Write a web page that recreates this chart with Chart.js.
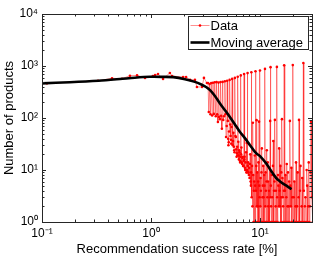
<!DOCTYPE html>
<html>
<head>
<meta charset="utf-8">
<script src="https://cdn.jsdelivr.net/npm/chart.js@4.4.0/dist/chart.umd.min.js"></script>
<style>
    html, body { margin: 0; padding: 0; background: #fff; }
</style>
</head>
<body>
<canvas id="grafico" width="319" height="257"></canvas>
<script>
// success rate [%] and number of products
const dataX = [
    0.111, 0.327, 0.439, 0.542, 0.641, 0.745, 0.881, 1.04, 1.09, 1.16, 1.29, 1.49, 1.56, 1.97, 2.10, 2.28, 2.53, 2.64, 2.94, 3.06, 3.26,
    3.333, 3.39, 3.448, 3.51, 3.571, 3.64, 3.704, 3.77, 3.846, 3.93, 4.0, 4.05, 4.11, 4.167, 4.21, 4.29, 4.348, 4.40, 4.47,
    4.545, 4.60, 4.68, 4.762, 4.82, 4.88, 4.95, 5.0,
    5.06, 5.1, 5.13, 5.17, 5.20, 5.263,
    5.33, 5.37, 5.42, 5.45, 5.49, 5.556,
    5.62, 5.66, 5.70, 5.75, 5.80, 5.84, 5.882,
    5.95, 6.01, 6.05, 6.10, 6.14, 6.18, 6.22, 6.25,
    6.32, 6.36, 6.40, 6.45, 6.50, 6.54, 6.58, 6.62, 6.667,
    6.71, 6.75, 6.8, 6.85, 6.9, 6.95, 7.0, 7.05, 7.1, 7.143,
    7.18, 7.22, 7.27, 7.32, 7.38, 7.45, 7.5, 7.56, 7.6, 7.64, 7.692,
    7.73, 7.78, 7.84, 7.90, 7.96, 8.02, 8.08, 8.14, 8.2, 8.26, 8.3, 8.333,
    8.39, 8.45, 8.53, 8.6, 8.66, 8.72, 8.78, 8.85, 8.91, 8.97, 9.03, 9.091,
    9.13, 9.18, 9.24, 9.3, 9.36, 9.42, 9.49, 9.55, 9.61, 9.68, 9.74, 9.8, 9.86, 9.92, 9.96, 10.0,
    10.06, 10.12, 10.18, 10.25, 10.32, 10.4, 10.48, 10.55, 10.62, 10.7, 10.78, 10.85, 10.93, 11.0, 11.05, 11.11,
    11.18, 11.25, 11.32, 11.4, 11.48, 11.55, 11.62, 11.7, 11.78, 11.85, 11.92, 12.0, 12.1, 12.2, 12.3, 12.4, 12.45, 12.5,
    12.57, 12.65, 12.75, 12.85, 12.95, 13.05, 13.15, 13.25, 13.35, 13.45, 13.57, 13.7, 13.8, 13.9, 14.0, 14.1, 14.2, 14.29,
    14.38, 14.5, 14.62, 14.75, 14.88, 15.0, 15.12, 15.25, 15.38, 15.5, 15.6, 15.7, 15.8, 15.9, 16.05, 16.2, 16.32, 16.45, 16.56, 16.67,
    16.8, 16.95, 17.1, 17.3, 17.45, 17.6, 17.75, 17.9, 18.05, 18.2, 18.35, 18.5, 18.65, 18.8, 19.0, 19.2, 19.4, 19.6, 19.8, 20.0,
    20.2, 20.4, 20.65, 20.9, 21.15, 21.4, 21.65, 21.9, 22.15, 22.4, 22.6, 22.8, 23.05, 23.3, 23.55, 23.8, 24.1, 24.4, 24.7, 25.0,
    25.25, 25.5, 25.8, 26.1, 26.45, 26.8, 27.1, 27.4, 27.7, 28.0, 28.35, 28.7, 29.0, 29.4, 29.8, 30.5
];
const dataY = [
    464, 520, 580, 570, 650, 660, 590, 640, 670, 700, 565, 735, 640, 615, 615, 540, 540, 395, 395, 590, 470,
    470, 130, 452, 118, 470, 112, 475, 120, 488, 108, 490, 118, 84, 480, 105, 95, 492, 110, 62,
    495, 92, 108, 510, 118, 43, 70, 520,
    88, 40, 30, 34, 55, 540,
    75, 45, 38, 32, 67, 565,
    30, 36, 52, 28, 24, 22, 590,
    45, 43, 25, 18, 21, 28, 19, 620,
    35, 19, 16, 24, 22, 15, 14, 18, 660,
    20, 27, 14, 13, 17, 18, 12, 12, 15, 700,
    16, 18, 11, 10, 14, 22, 9, 33, 10, 9, 730,
    12, 14, 9, 8, 11, 7, 13, 20, 6, 5, 9, 760,
    3, 12, 2, 81, 8, 1, 4, 6, 1, 19, 5, 790,
    1, 4, 12, 91, 2, 9, 1, 2, 6, 14, 1, 85, 5, 3, 1, 820,
    2, 7, 4, 1, 9, 26, 1, 3, 5, 12, 3, 1, 8, 5, 1, 880,
    2, 9, 4, 1, 6, 24, 1, 3, 14, 6, 2, 1, 4, 11, 1, 88, 3, 950,
    5, 2, 1, 8, 3, 1, 12, 36, 1, 4, 6, 92, 1, 2, 4, 7, 1, 960,
    3, 1, 8, 5, 2, 26, 4, 2, 12, 1, 3, 9, 1, 95, 7, 3, 2, 1, 4, 1030,
    1, 4, 8, 1, 3, 13, 1, 2, 9, 1, 2, 6, 1, 88, 5, 2, 11, 1, 3, 1040,
    1, 3, 6, 1, 2, 14, 1, 2, 9, 1, 3, 92, 1, 4, 12, 1, 2, 7, 1, 1140,
    4, 1, 2, 3, 1, 10, 5, 1, 2, 14, 1, 2, 9, 85, 3, 1
];

const avgX = [0.1, 0.18, 0.33, 0.52, 0.71, 0.98, 1.3, 1.6, 2.05, 2.53, 2.95, 3.2, 3.5, 3.86, 4.28, 4.75, 5.27, 5.85, 6.5,
    7.27, 8.09, 9.2, 10.0, 11.4, 12.3, 14.1, 15.2, 16.4, 17.7, 19.1, 19.5];
const avgY = [464, 487, 521, 562, 596, 620, 618, 610, 558, 495, 432, 395, 340, 265, 192, 143, 106, 77, 55,
    41, 30, 21, 18.5, 13.4, 10.5, 7.0, 6.1, 5.4, 4.9, 4.4, 4.3];

const xTicks = [0.1, 1, 10];
const xTickLabels = ['10⁻¹', '10⁰', '10¹'];
const yTicks = [1, 10, 100, 1000, 10000];
const yTickLabels = ['10⁰', '10¹', '10²', '10³', '10⁴'];

const FONT = "'Liberation Sans', Arial, Helvetica, sans-serif";

function toPoints(xs, ys) {
    return xs.map((v, i) => ({ x: v, y: ys[i] }));
}

function logSteps(min, max) {
    const out = [];
    for (let e = Math.floor(Math.log10(min)); e <= Math.ceil(Math.log10(max)); e++) {
        for (let k = 1; k <= 9; k++) {
            const v = k * Math.pow(10, e);
            if (v >= min * 0.999 && v <= max * 1.001) out.push({ v, major: k === 1 });
        }
    }
    return out;
}

// matlab-like box with inward ticks on all four sides
const boxTicks = {
    id: 'boxTicks',
    afterDatasetsDraw(chart) {
        const { ctx, chartArea: a, scales: { x, y } } = chart;
        ctx.save();
        ctx.strokeStyle = '#262626';
        ctx.lineWidth = 1;
        ctx.beginPath();
        logSteps(x.min, x.max).forEach(t => {
            const p = Math.round(x.getPixelForValue(t.v)) + 0.5;
            const len = t.major ? 4 : 2.5;
            ctx.moveTo(p, a.bottom); ctx.lineTo(p, a.bottom - len);
            ctx.moveTo(p, a.top); ctx.lineTo(p, a.top + len);
        });
        logSteps(y.min, y.max).forEach(t => {
            const p = Math.round(y.getPixelForValue(t.v)) + 0.5;
            const len = t.major ? 4 : 2.5;
            ctx.moveTo(a.left, p); ctx.lineTo(a.left + len, p);
            ctx.moveTo(a.right, p); ctx.lineTo(a.right - len, p);
        });
        ctx.stroke();
        ctx.strokeRect(Math.round(a.left) + 0.5, Math.round(a.top) + 0.5,
            Math.round(a.right - a.left), Math.round(a.bottom - a.top));
        ctx.restore();
    }
};

const legendBox = {
    id: 'legendBox',
    afterDraw(chart) {
        const { ctx, chartArea: a } = chart;
        const w = 120, h = 33;
        const left = Math.round(a.right) - 4 - w + 0.5;
        const top = Math.round(a.top) + 2 + 0.5;
        ctx.save();
        ctx.fillStyle = '#fff';
        ctx.fillRect(left, top, w, h);
        ctx.strokeStyle = '#262626';
        ctx.lineWidth = 1;
        ctx.strokeRect(left, top, w, h);
        ctx.font = '13px ' + FONT;
        ctx.textBaseline = 'middle';
        chart.data.datasets.slice().sort((p, q) => q.order - p.order).forEach((ds, i) => {
            const yy = top + 9 + i * 17;
            ctx.strokeStyle = ds.borderColor;
            ctx.lineWidth = ds.borderWidth;
            ctx.beginPath();
            ctx.moveTo(left + 2, yy);
            ctx.lineTo(left + 21, yy);
            ctx.stroke();
            if (ds.pointRadius > 0) {
                ctx.fillStyle = ds.pointBackgroundColor;
                ctx.beginPath();
                ctx.arc(left + 11.5, yy, ds.pointRadius, 0, Math.PI * 2);
                ctx.fill();
            }
            ctx.fillStyle = '#000';
            ctx.fillText(ds.label, left + 22, yy + 0.5);
        });
        ctx.restore();
    }
};

const ctxGrafico = document.getElementById('grafico').getContext('2d');

new Chart(ctxGrafico, {
    type: 'line',
    data: {
        datasets: [{
            label: 'Moving average',
            data: toPoints(avgX, avgY),
            borderColor: '#000',
            borderWidth: 2.6,
            pointRadius: 0,
            tension: 0.3,
            order: 0
        }, {
            label: 'Data',
            data: toPoints(dataX, dataY),
            borderColor: 'rgba(255, 0, 0, 0.55)',
            borderWidth: 0.8,
            pointRadius: 1.3,
            pointBorderWidth: 0,
            pointBackgroundColor: '#ff0000',
            tension: 0,
            order: 1
        }]
    },
    options: {
        responsive: false,
        animation: false,
        events: [],
        layout: { padding: { top: 14, right: 7, left: 0, bottom: 0 } },
        plugins: {
            legend: { display: false },
            tooltip: { enabled: false }
        },
        scales: {
            x: {
                type: 'logarithmic',
                min: 0.1,
                max: 30,
                grid: { display: false, drawTicks: false },
                border: { display: false },
                afterBuildTicks: s => { s.ticks = xTicks.map(v => ({ value: v })); },
                afterFit: s => { s.height = 35; },
                ticks: {
                    autoSkip: false,
                    maxRotation: 0,
                    padding: 4,
                    color: '#000',
                    font: { family: FONT, size: 12 },
                    callback: v => xTickLabels[xTicks.indexOf(v)]
                },
                title: {
                    display: true,
                    text: 'Recommendation success rate [%]',
                    color: '#000',
                    font: { family: FONT, size: 13 },
                    padding: { top: 0, bottom: 0 }
                }
            },
            y: {
                type: 'logarithmic',
                min: 1,
                max: 10000,
                grid: { display: false, drawTicks: false },
                border: { display: false },
                afterBuildTicks: s => { s.ticks = yTicks.map(v => ({ value: v })); },
                afterFit: s => { s.width = 42; },
                ticks: {
                    autoSkip: false,
                    padding: 4,
                    color: '#000',
                    font: { family: FONT, size: 12 },
                    callback: v => yTickLabels[yTicks.indexOf(v)]
                },
                title: {
                    display: true,
                    text: 'Number of products',
                    color: '#000',
                    font: { family: FONT, size: 13 },
                    padding: { top: 2, bottom: 0 }
                }
            }
        }
    },
    plugins: [boxTicks, legendBox]
});
</script>
</body>
</html>
